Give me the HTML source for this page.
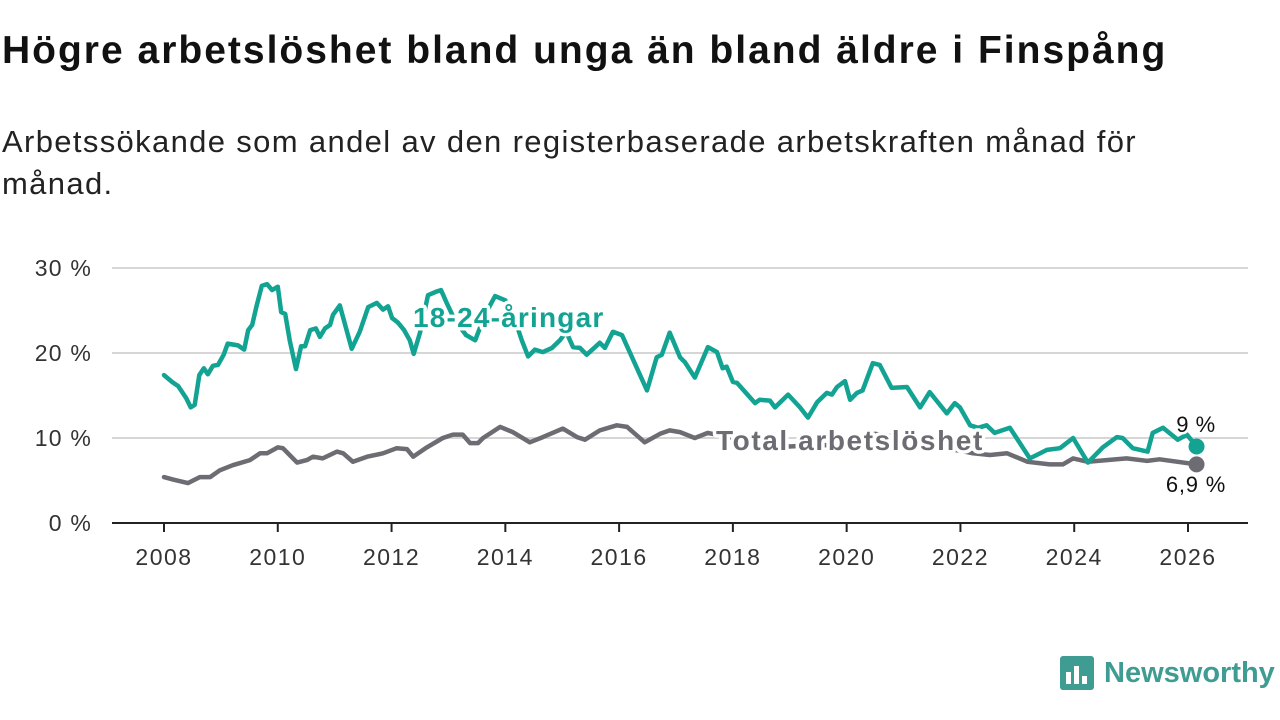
<!DOCTYPE html>
<html><head><meta charset="utf-8">
<style>
body{margin:0;width:1280px;height:720px;background:#fff;overflow:hidden;font-family:"Liberation Sans",sans-serif;}
#title{position:absolute;left:2px;top:29px;font-size:39px;font-weight:bold;color:#111;letter-spacing:2px;white-space:nowrap;}
#sub{position:absolute;left:2px;top:121px;font-size:31px;line-height:42px;color:#222;width:1190px;letter-spacing:1.35px;}
svg{position:absolute;left:0;top:0;}
</style></head><body>
<div id="title">Högre arbetslöshet bland unga än bland äldre i Finspång</div>
<div id="sub">Arbetssökande som andel av den registerbaserade arbetskraften månad för månad.</div>
<svg id="chart" width="1280" height="720"></svg>
<script>
const yTicks=[0,10,20,30];
const yTickLabels=["0 %","10 %","20 %","30 %"];
const xTicks=[2008,2010,2012,2014,2016,2018,2020,2022,2024,2026];
const youthDates=[2008.0,2008.14,2008.25,2008.39,2008.47,2008.54,2008.62,2008.70,2008.77,2008.86,2008.95,2009.05,2009.12,2009.30,2009.41,2009.48,2009.55,2009.63,2009.72,2009.81,2009.90,2010.0,2010.06,2010.13,2010.21,2010.32,2010.41,2010.48,2010.57,2010.67,2010.74,2010.83,2010.92,2010.97,2011.09,2011.30,2011.44,2011.59,2011.74,2011.85,2011.94,2012.01,2012.11,2012.22,2012.32,2012.39,2012.50,2012.64,2012.78,2012.87,2012.97,2013.11,2013.31,2013.47,2013.64,2013.82,2014.0,2014.17,2014.29,2014.40,2014.52,2014.66,2014.82,2014.96,2015.07,2015.19,2015.31,2015.43,2015.66,2015.75,2015.89,2016.05,2016.49,2016.66,2016.75,2016.89,2017.07,2017.16,2017.33,2017.56,2017.72,2017.82,2017.89,2018.0,2018.07,2018.39,2018.47,2018.65,2018.74,2018.97,2019.18,2019.32,2019.48,2019.65,2019.74,2019.83,2019.97,2020.06,2020.18,2020.28,2020.46,2020.58,2020.79,2021.06,2021.29,2021.46,2021.76,2021.90,2021.99,2022.17,2022.31,2022.46,2022.60,2022.87,2023.22,2023.34,2023.52,2023.75,2023.98,2024.24,2024.50,2024.75,2024.85,2025.03,2025.29,2025.38,2025.56,2025.82,2025.98,2026.15];
const youthValues=[17.4,16.6,16.1,14.7,13.6,13.9,17.4,18.2,17.5,18.5,18.6,19.8,21.1,20.9,20.4,22.7,23.3,25.6,27.9,28.1,27.4,27.8,24.8,24.6,21.5,18.1,20.8,20.8,22.7,22.9,21.9,22.9,23.3,24.5,25.6,20.5,22.5,25.4,25.9,25.1,25.5,24.1,23.6,22.7,21.5,19.9,22.4,26.8,27.2,27.4,25.9,23.9,22.1,21.5,24.5,26.7,26.2,23.9,21.5,19.6,20.4,20.1,20.6,21.5,22.5,20.7,20.6,19.8,21.2,20.6,22.5,22.1,15.6,19.5,19.8,22.4,19.5,18.9,17.1,20.7,20.1,18.2,18.4,16.6,16.5,14.1,14.5,14.4,13.6,15.1,13.6,12.4,14.2,15.3,15.1,16.0,16.7,14.5,15.3,15.6,18.8,18.6,15.9,16.0,13.6,15.4,12.9,14.1,13.6,11.5,11.2,11.5,10.6,11.2,7.6,8.0,8.6,8.8,10.0,7.1,8.9,10.1,10.0,8.8,8.4,10.6,11.2,9.8,10.4,9.0];
const totalDates=[2008.0,2008.16,2008.42,2008.63,2008.81,2008.98,2009.21,2009.51,2009.69,2009.81,2010.0,2010.09,2010.34,2010.51,2010.62,2010.79,2011.04,2011.15,2011.32,2011.57,2011.85,2012.09,2012.27,2012.38,2012.62,2012.90,2013.08,2013.25,2013.38,2013.52,2013.61,2013.91,2014.13,2014.43,2014.66,2015.01,2015.26,2015.40,2015.66,2015.96,2016.14,2016.45,2016.72,2016.89,2017.07,2017.33,2017.56,2018.0,2018.5,2019.0,2019.5,2020.0,2020.5,2021.0,2021.5,2022.0,2022.22,2022.52,2022.82,2023.18,2023.57,2023.80,2023.98,2024.24,2024.57,2024.92,2025.28,2025.50,2026.15];
const totalValues=[5.4,5.1,4.7,5.4,5.4,6.2,6.8,7.4,8.2,8.2,8.9,8.8,7.1,7.4,7.8,7.6,8.4,8.2,7.2,7.8,8.2,8.8,8.7,7.8,8.9,10.0,10.4,10.4,9.4,9.4,10.0,11.3,10.7,9.5,10.1,11.1,10.1,9.8,10.9,11.5,11.3,9.5,10.5,10.9,10.7,10.0,10.6,10.0,9.5,9.0,9.2,9.0,10.5,10.0,9.0,8.5,8.2,8.0,8.2,7.2,6.9,6.9,7.6,7.2,7.4,7.6,7.3,7.5,6.9];
const youthLast="9 %", totalLast="6,9 %";

const NS="http://www.w3.org/2000/svg";
const svg=document.getElementById('chart');
const X=v=>164+(v-2008)*(1188-164)/18;
const Y=v=>523-v*8.5;
function mk(t,a,p){const e=document.createElementNS(NS,t);for(const k in a)e.setAttribute(k,a[k]);(p||svg).appendChild(e);return e;}
yTicks.forEach((t,i)=>{
  const g=mk('line',{x1:112,x2:1248,y1:Y(t),y2:Y(t),stroke:t===0?'#222':'#d6d6d6','stroke-width':2});
  
  
  const l=mk('text',{x:92,y:Y(t)+8,'text-anchor':'end','font-size':23,fill:'#333','letter-spacing':1.2});
  l.textContent=yTickLabels[i];
  
  
});
xTicks.forEach(t=>{
  const k=mk('line',{x1:X(t),x2:X(t),y1:523,y2:532,stroke:'#222','stroke-width':2});
  
  
  const l=mk('text',{x:X(t),y:565,'text-anchor':'middle','font-size':23,fill:'#333','letter-spacing':1.5});
  l.textContent=t;
  
  
});
function line(d,v,col,name){
  const p=mk('path',{d:d.map((x,i)=>(i?'L':'M')+X(x).toFixed(1)+','+Y(v[i]).toFixed(1)).join(''),fill:'none',stroke:col,'stroke-width':4.5,'stroke-linejoin':'round','stroke-linecap':'round'});
  
  
  const c=mk('circle',{cx:X(d[d.length-1]),cy:Y(v[v.length-1]),r:8,fill:col});
  
  
}
line(totalDates,totalValues,'#6d6c72','total-line');
line(youthDates,youthValues,'#12a393','youth-line');
function lab(txt,x,y,col,size,bold,name,anchor,ls){
  const t=mk('text',{x:x,y:y,'font-size':size,'font-weight':bold?'bold':'normal',fill:col,stroke:'#fff','stroke-width':bold?7:5,'paint-order':'stroke','stroke-linejoin':'round','text-anchor':anchor||'start','letter-spacing':ls||0});
  t.textContent=txt;
  
  
}
lab('18-24-åringar',413,327,'#12a393',28,true,'youth-series-label','start',1.2);
lab('Total arbetslöshet',716,450,'#6d6c72',28,true,'total-series-label','start',1.6);
lab(youthLast,1196,432,'#111',22,false,'youth-end-value','middle',0.5);
lab(totalLast,1196,492,'#111',22,false,'total-end-value','middle',0.8);
const lg=mk('g',{});


mk('rect',{x:1060,y:656,width:34,height:34,rx:3,fill:'#3f9c92'},lg);
mk('rect',{x:1066,y:672,width:5,height:12,fill:'#fff'},lg);
mk('rect',{x:1074,y:666,width:5,height:18,fill:'#fff'},lg);
mk('rect',{x:1082,y:676,width:5,height:8,fill:'#fff'},lg);
const lt=mk('text',{x:1104,y:682,'font-size':29,'font-weight':'bold',fill:'#3f9c92'},lg);
lt.textContent='Newsworthy';
</script>
</body></html>
